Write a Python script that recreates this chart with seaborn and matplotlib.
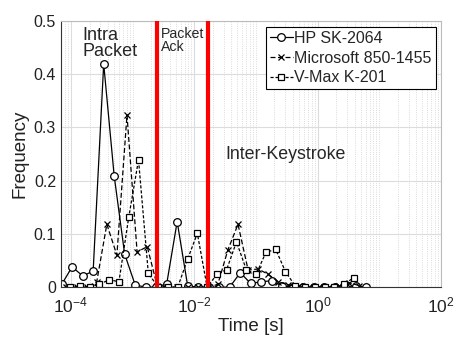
import matplotlib
matplotlib.use("Agg")
import matplotlib.pyplot as plt
import matplotlib.ticker as mticker
import seaborn as sns

# bin centres [s] and frequencies per keyboard
hp_time = [7.06e-5, 1.045e-4, 1.549e-4, 2.291e-4, 3.396e-4, 5.023e-4, 7.43e-4, 1.102e-3,
           1.63e-3, 2.415e-3, 3.573e-3, 5.284e-3, 7.83e-3, 1.159e-2, 1.718e-2, 2.541e-2,
           3.758e-2, 5.57e-2, 8.24e-2, 0.1222, 0.1807, 0.2673, 0.3963, 0.5861, 0.869,
           1.285, 1.901, 2.818, 4.169, 6.18]
hp_freq = [0.005, 0.038, 0.021, 0.030, 0.419, 0.209, 0.062, 0.004, 0, 0, 0.006, 0.123,
           0.002, 0, 0, 0, 0, 0.027, 0.007, 0.010, 0.012, 0.002, 0, 0, 0, 0, 0, 0,
           0.003, 0]

ms_time = [8.45e-5, 1.233e-4, 1.795e-4, 2.618e-4, 3.819e-4, 5.559e-4, 8.11e-4, 1.183e-3,
           1.726e-3, 2.512e-3, 3.664e-3, 5.346e-3, 7.78e-3, 1.135e-2, 1.656e-2, 2.41e-2,
           3.516e-2, 5.129e-2, 7.48e-2, 0.1089, 0.1589, 0.2317, 0.3373, 0.492, 0.7178,
           1.045, 1.524, 2.223, 3.243, 4.721]
ms_freq = [0, 0, 0, 0.010, 0.118, 0.060, 0.323, 0.066, 0.076, 0.002, 0, 0, 0, 0, 0,
           0.005, 0.070, 0.118, 0.032, 0.034, 0.024, 0.010, 0.004, 0.002, 0, 0, 0,
           0.002, 0.008, 0.003]

vm_time = [9.64e-5, 1.39e-4, 2.004e-4, 2.891e-4, 4.169e-4, 6.0e-4, 8.65e-4, 1.247e-3,
           1.799e-3, 2.594e-3, 3.741e-3, 5.395e-3, 7.78e-3, 1.122e-2, 1.618e-2, 2.328e-2,
           3.357e-2, 4.842e-2, 6.98e-2, 0.1007, 0.1452, 0.2094, 0.302, 0.4355, 0.6281,
           0.9057, 1.306, 1.884, 2.716, 3.917]
vm_freq = [0, 0.002, 0, 0.005, 0.014, 0.010, 0.131, 0.239, 0.026, 0, 0, 0, 0.052, 0.101,
           0, 0.024, 0.033, 0.085, 0.033, 0.024, 0.065, 0.071, 0.029, 0.002, 0, 0, 0, 0,
           0.006, 0.018]

boundaries = [2.5e-3, 1.65e-2]   # red separators
yticks = [0, 0.1, 0.2, 0.3, 0.4, 0.5]
xticks = [1e-4, 1e-2, 1e0, 1e2]

sns.set_style("white")
plt.rcParams["font.family"] = ["Liberation Sans", "DejaVu Sans"]

fig = plt.figure(figsize=(4.65, 3.51), dpi=100)
ax = fig.add_axes([0.131, 0.182, 0.817, 0.759])

for t, f, lab, mk, ms, ls in [(hp_time, hp_freq, "HP SK-2064", "o", 5.5, "-"),
                              (ms_time, ms_freq, "Microsoft 850-1455", "x", 4.2, (0, (4, 2))),
                              (vm_time, vm_freq, "V-Max K-201", "s", 4.8, (0, (2.5, 1.5)))]:
    sns.lineplot(x=t, y=f, ax=ax, color="black", linewidth=0.9, linestyle=ls,
                 marker=mk, markersize=ms,
                 markerfacecolor="white" if mk != "x" else "black",
                 markeredgecolor="black", markeredgewidth=0.9, label=lab)

for b in boundaries:
    ax.axvline(b, color="red", linewidth=3, zorder=5)

ax.set_xscale("log")
ax.set_xlim(10 ** -4.163, 1e2)
ax.set_ylim(0, 0.5)
ax.set_xticks(xticks)
ax.set_yticks(yticks)
ax.yaxis.set_major_formatter(mticker.FormatStrFormatter("%g"))
ax.xaxis.set_minor_locator(mticker.LogLocator(base=10, subs=range(1, 10), numticks=20))
ax.xaxis.set_minor_formatter(mticker.NullFormatter())

ax.grid(True, which="major", color="#dcdcdc", linewidth=0.8, linestyle="-")
ax.grid(True, which="minor", axis="x", color="#d0d0d0", linewidth=0.6, linestyle=":")
ax.set_axisbelow(True)
ax.tick_params(which="both", direction="in", colors="#222222",
               top=False, right=False, length=3)
ax.tick_params(axis="y", labelsize=11.5)
ax.tick_params(axis="x", labelsize=12.5, pad=6)
ax.tick_params(which="minor", length=1.5)
for s in ["left", "bottom"]:
    ax.spines[s].set_color("#333333")
for s in ["top", "right"]:
    ax.spines[s].set_color("#bbbbbb")

ax.set_xlabel("Time [s]", fontsize=13.5, color="#222222", labelpad=2)
ax.set_ylabel("Frequency", fontsize=13.5, color="#222222", labelpad=4)

ax.text(1.55e-4, 0.488, "Intra\nPacket", fontsize=13, va="top", ha="left", linespacing=0.95)
ax.text(2.87e-3, 0.489, "Packet\nAck", fontsize=10.2, va="top", ha="left", linespacing=0.95)
ax.text(3.19e-2, 0.248, "Inter-Keystroke", fontsize=12.8, va="center", ha="left")

leg = ax.legend(loc="upper right", bbox_to_anchor=(0.986, 0.977), borderaxespad=0,
                fontsize=11.5, handlelength=1.4, handletextpad=0.1, borderpad=0.25,
                labelspacing=0.3, fancybox=False, framealpha=1, edgecolor="black")
leg.get_frame().set_linewidth(0.8)

plt.savefig("out.png", dpi=100)
